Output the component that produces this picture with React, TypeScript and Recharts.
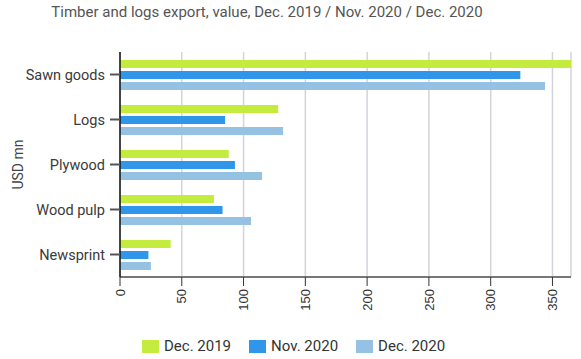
import React from "react";
import { BarChart, Bar, XAxis, YAxis, CartesianGrid } from "recharts";

const categories = ["Sawn goods", "Logs", "Plywood", "Wood pulp", "Newsprint"];
const dec2019 = [365, 128, 88, 76, 41];
const nov2020 = [324, 85, 93, 83, 23];
const dec2020 = [344, 132, 115, 106, 25];
const xTicks = [0, 50, 100, 150, 200, 250, 300, 350];
const seriesNames = ["Dec. 2019", "Nov. 2020", "Dec. 2020"];
const seriesColors = ["#c3ec3e", "#2f96ea", "#95c2e2"];

const data = categories.map((name, i) => ({
  name,
  d19: dec2019[i],
  n20: nov2020[i],
  d20: dec2020[i],
}));

const XTick = (props: any) => {
  const { x, y, payload } = props;
  return (
    <g transform={`translate(${x},${y})`}>
      <text
        x={-2}
        y={0}
        dy="0.36em"
        transform="rotate(-90)"
        textAnchor="end"
        fill="#333"
        fontSize={13}
        fontFamily="'Liberation Sans', Arial, sans-serif"
      >
        {payload.value}
      </text>
    </g>
  );
};

const YLabel = (props: any) => {
  const vb = props.viewBox || {};
  const cx = 18;
  const cy = (vb.y ?? 52) + (vb.height ?? 225) / 2;
  return (
    <text
      x={cx}
      y={cy}
      transform={`rotate(-90, ${cx}, ${cy})`}
      textAnchor="middle"
      dominantBaseline="central"
      fill="#444"
      fontSize={14}
      fontFamily="Roboto, sans-serif"
    >
      USD mn
    </text>
  );
};

export default function App() {
  return (
    <div style={{ position: "absolute", left: 0, top: 0, width: 581, height: 359, background: "#fff", fontFamily: "Roboto, sans-serif" }}>
      <div
        style={{
          position: "absolute",
          left: 0,
          width: 534,
          top: 2,
          textAlign: "center",
          fontSize: 15,
          color: "#555",
          lineHeight: "20px",
        }}
      >
        Timber and logs export, value, Dec. 2019 / Nov. 2020 / Dec. 2020
      </div>
      <BarChart
        width={581}
        height={359}
        data={data}
        layout="vertical"
        margin={{ top: 52, right: 10, left: 0, bottom: 42 }}
        barSize={8}
        barGap={3}
      >
        <CartesianGrid horizontal={false} vertical={true} stroke="#d3d3dd" strokeWidth={1.5} />
        <XAxis
          type="number"
          domain={[0, 365]}
          ticks={xTicks}
          interval={0}
          height={40}
          tickSize={9}
          tickMargin={1}
          tick={<XTick />}
          axisLine={{ stroke: "#777", strokeWidth: 2 }}
          tickLine={{ stroke: "#333" }}
        />
        <YAxis
          type="category"
          dataKey="name"
          width={120}
          tickSize={10}
          tickMargin={5}
          tick={{ fill: "#3a3a3a", fontSize: 14.5, fontFamily: "Roboto, sans-serif" }}
          axisLine={{ stroke: "#111", strokeWidth: 1.5 }}
          tickLine={{ stroke: "#555", strokeWidth: 2 }}
          label={<YLabel />}
        />
        <Bar dataKey="d19" name={seriesNames[0]} fill={seriesColors[0]} isAnimationActive={false} />
        <Bar dataKey="n20" name={seriesNames[1]} fill={seriesColors[1]} isAnimationActive={false} />
        <Bar dataKey="d20" name={seriesNames[2]} fill={seriesColors[2]} isAnimationActive={false} />
      </BarChart>
      <div
        style={{
          position: "absolute",
          left: 142,
          top: 338,
          display: "flex",
          alignItems: "center",
          fontSize: 15,
          color: "#333",
          lineHeight: "16px",
        }}
      >
        {seriesNames.map((n, i) => (
          <div key={n} style={{ display: "flex", alignItems: "center", marginRight: i < 2 ? 18 : 0 }}>
            <span style={{ display: "inline-block", width: 17, height: 13, background: seriesColors[i], marginRight: 5 }} />
            <span>{n}</span>
          </div>
        ))}
      </div>
    </div>
  );
}
